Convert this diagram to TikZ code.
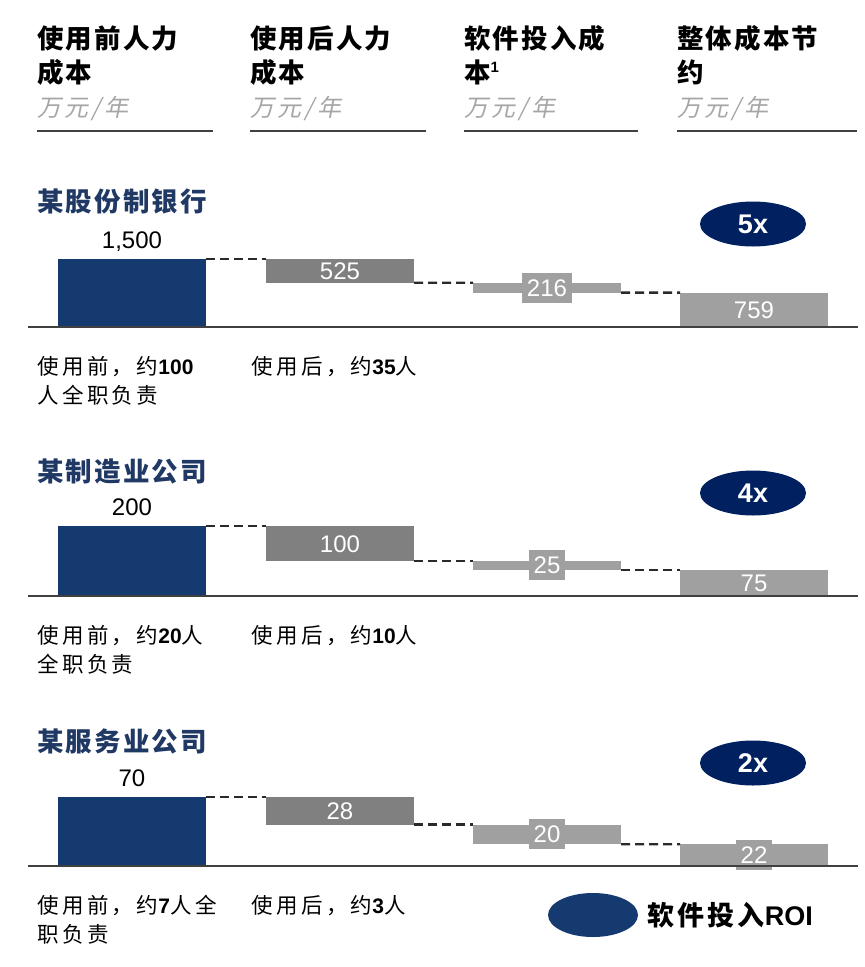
\documentclass[tikz,border=0pt]{standalone}
\usepackage{fontspec}
\setmainfont{Liberation Sans}
\newfontfamily\cjk[LetterSpace=8]{Noto Sans CJK SC}
\newfontfamily\cjkann[LetterSpace=16]{Noto Sans CJK SC}
\newfontfamily\cjkit[LetterSpace=14,FakeSlant=0.2]{Noto Sans CJK SC}
\newfontfamily\cjkleg[LetterSpace=12]{Noto Sans CJK SC}
\usetikzlibrary{shapes.geometric}
\definecolor{barblue}{HTML}{153A6F}
\definecolor{roiblue}{HTML}{002060}
\definecolor{titleblue}{HTML}{1F3864}
\definecolor{dgray}{HTML}{808080}
\definecolor{lgray}{HTML}{A0A0A0}
\definecolor{unitgray}{HTML}{A6A6A6}
\definecolor{rulegray}{HTML}{404040}
\definecolor{dashgray}{HTML}{2A2A2A}
\newcommand\nb[1]{{\normalfont\bfseries\fontsize{21}{21}\selectfont #1}}
\begin{document}
\begin{tikzpicture}[x=1pt,y=-1pt,
  hdr/.style={anchor=base west, inner sep=0, font=\cjk\bfseries\fontsize{26.5}{30}\selectfont},
  unit/.style={anchor=base west, inner sep=0, text=unitgray, font=\cjkit\fontsize{24}{28}\selectfont},
  ttl/.style={hdr, text=titleblue},
  ann/.style={anchor=base west, inner sep=0, font=\cjkann\fontsize{21.5}{24}\selectfont},
  bar/.style={rectangle, draw=none, inner sep=0, outer sep=0, minimum width=148pt, anchor=north west},
  num/.style={anchor=base, inner sep=0, font=\fontsize{24}{24}\selectfont},
  wl/.style={inner sep=0, text=white, text height=17pt, text depth=0pt, font=\fontsize{24}{24}\selectfont},
  wlbox/.style={wl, fill=lgray, inner xsep=4.5pt, inner ysep=6.5pt},
  conn/.style={draw=dashgray, line width=2.3pt, dash pattern=on 9pt off 5pt},
  axisline/.style={draw=rulegray, line width=1.8pt},
  hrule/.style={draw=rulegray, line width=2pt},
  roi/.style={ellipse, fill=roiblue, minimum width=106pt, minimum height=45pt, inner sep=0, text=white, font=\bfseries\fontsize{27}{27}\selectfont}
]
\fill[white] (0,0) rectangle (865,967);
\useasboundingbox (0,0) rectangle (865,967);

% header
\node[hdr] (h1a) at (37,48) {使用前人力};
\node[hdr] (h1b) at (37,82) {成本};
\node[unit] (h1u) at (37,116) {万元/年};
\node[hdr] (h2a) at (250,48) {使用后人力};
\node[hdr] (h2b) at (250,82) {成本};
\node[unit] (h2u) at (250,116) {万元/年};
\node[hdr] (h3a) at (464,48) {软件投入成};
\node[hdr] (h3b) at (464,82) {本\raisebox{10pt}{\normalfont\bfseries\fontsize{15}{15}\selectfont 1}};
\node[unit] (h3u) at (464,116) {万元/年};
\node[hdr] (h4a) at (677,48) {整体成本节};
\node[hdr] (h4b) at (677,82) {约};
\node[unit] (h4u) at (677,116) {万元/年};
\draw[hrule] (37,131) -- (213,131);
\draw[hrule] (250,131) -- (426,131);
\draw[hrule] (464,131) -- (638,131);
\draw[hrule] (677,131) -- (857,131);

% section 1
\node[ttl] (s1t) at (37,211) {某股份制银行};
\node[roi] (s1roi) at (753,224) {5x};
\node[num] (s1v) at (132,248) {1,500};
\node[bar, fill=barblue, minimum height=68pt] (s1b1) at (58,259) {};
\node[bar, fill=dgray, minimum height=23.8pt] (s1b2) at (266,259) {};
\node[bar, fill=lgray, minimum height=9.8pt] (s1b3) at (473,282.8) {};
\node[bar, fill=lgray, minimum height=34.4pt] (s1b4) at (680,292.6) {};
\node[wl] (s1l2) at (s1b2.center) {525};
\node[wlbox] (s1l3) at (s1b3.center) {216};
\node[wl] (s1l4) at (s1b4.center) {759};
\draw[conn] (s1b1.north east) -- (s1b2.north west);
\draw[conn] (s1b2.south east) -- (s1b3.north west);
\draw[conn] (s1b3.south east) -- (s1b4.north west);
\coordinate (s1L) at (28,327); \coordinate (s1R) at (858,327);
\draw[axisline] (s1L) -- (s1R);
\node[ann] (s1a1) at (37,374) {使用前，约\nb{100}};
\node[ann] (s1a2) at (37,403) {人全职负责};
\node[ann] (s1a3) at (251,374) {使用后，约\nb{35}人};

% section 2
\node[ttl] (s2t) at (37,481) {某制造业公司};
\node[roi] (s2roi) at (753,493) {4x};
\node[num] (s2v) at (132,515) {200};
\node[bar, fill=barblue, minimum height=70pt] (s2b1) at (58,526) {};
\node[bar, fill=dgray, minimum height=35pt] (s2b2) at (266,526) {};
\node[bar, fill=lgray, minimum height=8.75pt] (s2b3) at (473,561) {};
\node[bar, fill=lgray, minimum height=26.25pt] (s2b4) at (680,569.75) {};
\node[wl] (s2l2) at (s2b2.center) {100};
\node[wlbox] (s2l3) at (s2b3.center) {25};
\node[wl] (s2l4) at (s2b4.center) {75};
\draw[conn] (s2b1.north east) -- (s2b2.north west);
\draw[conn] (s2b2.south east) -- (s2b3.north west);
\draw[conn] (s2b3.south east) -- (s2b4.north west);
\coordinate (s2L) at (28,596); \coordinate (s2R) at (858,596);
\draw[axisline] (s2L) -- (s2R);
\node[ann] (s2a1) at (37,643) {使用前，约\nb{20}人};
\node[ann] (s2a2) at (37,672) {全职负责};
\node[ann] (s2a3) at (251,643) {使用后，约\nb{10}人};

% section 3
\node[ttl] (s3t) at (37,751) {某服务业公司};
\node[roi] (s3roi) at (753,763) {2x};
\node[num] (s3v) at (132,786) {70};
\node[bar, fill=barblue, minimum height=69pt] (s3b1) at (58,797) {};
\node[bar, fill=dgray, minimum height=27.6pt] (s3b2) at (266,797) {};
\node[bar, fill=lgray, minimum height=19.7pt] (s3b3) at (473,824.6) {};
\node[bar, fill=lgray, minimum height=21.7pt] (s3b4) at (680,844.3) {};
\node[wl] (s3l2) at (s3b2.center) {28};
\node[wlbox] (s3l3) at (s3b3.center) {20};
\node[wlbox] (s3l4) at (s3b4.center) {22};
\draw[conn] (s3b1.north east) -- (s3b2.north west);
\draw[conn] (s3b2.south east) -- (s3b3.north west);
\draw[conn] (s3b3.south east) -- (s3b4.north west);
\coordinate (s3L) at (28,866); \coordinate (s3R) at (858,866);
\draw[axisline] (s3L) -- (s3R);
\node[ann] (s3a1) at (37,913) {使用前，约\nb{7}人全};
\node[ann] (s3a2) at (37,942) {职负责};
\node[ann] (s3a3) at (251,913) {使用后，约\nb{3}人};

% legend
\node[ellipse, fill=barblue, minimum width=90pt, minimum height=44pt, inner sep=0] (legE) at (593,915) {};
\node[anchor=base west, inner sep=0, font=\cjkleg\bfseries\fontsize{27}{27}\selectfont] (legT) at (647,925) {软件投入{\normalfont\bfseries\fontsize{27}{27}\selectfont ROI}};
\end{tikzpicture}
\end{document}
